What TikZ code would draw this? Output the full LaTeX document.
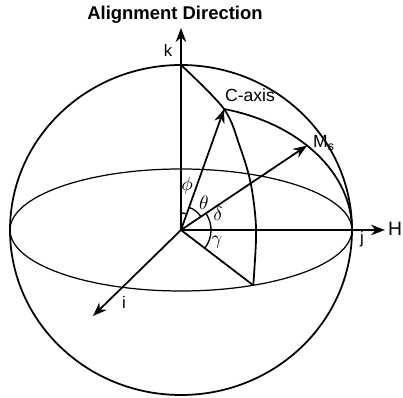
\documentclass[tikz,border=0pt]{standalone}
\usepackage{fontspec}
\setmainfont{Liberation Sans}
\usetikzlibrary{arrows.meta}

\begin{document}
\begin{tikzpicture}[
  x=0.2mm, y=0.2mm,
  every node/.style={font=\fontsize{9.5}{11}\selectfont, inner sep=1pt},
  shell/.style={line width=1pt},
  equat/.style={line width=0.7pt},
  axis/.style={-{Stealth[length=2.8mm, width=2.1mm]}, line width=1pt},
  ang/.style={line width=0.75pt},
  glbl/.style={font=\fontsize{11}{12}\selectfont}
]
\useasboundingbox (-181,-168) rectangle (222,230);

%% reference points on the sphere
\coordinate (O) at (0,0);
\coordinate (K) at (0,165);
\coordinate (C) at (75.4:171 and 125);
\coordinate (Ms) at (42.5:171 and 125);
\coordinate (J) at (171,0);
\coordinate (P) at (-65:171 and 61);
\coordinate (kend) at (0,202);
\coordinate (Hend) at (204,0);
\coordinate (iend) at (-88,-86);

%% sphere outline and equator
\draw[shell] (O) ellipse[x radius=171, y radius=165];
\draw[equat] (O) ellipse[x radius=171, y radius=61];

%% meridian through the C-axis, and great circle from C-axis to j
\draw[shell] plot[smooth, tension=0.55] coordinates {(0,165) (43,121) (59,83) (69,50) (74,17) (75,-10) (72.3,-55.3)};
\draw[shell] (C) arc[start angle=75.4, end angle=0, x radius=171, y radius=125];

%% axes and vectors
\draw[axis] (O) -- (kend);
\draw[axis] (O) -- (Hend);
\draw[axis] (O) -- (iend);
\draw[axis] (O) -- (C);
\draw[axis] (O) -- (Ms);
\draw[shell] (O) -- (P);

%% angle arcs
\draw[ang] (O) ++(90:17) arc[start angle=90, end angle=70.7, radius=17];
\draw[ang] (O) ++(70.7:24) arc[start angle=70.7, end angle=32.4, radius=24];
\draw[ang] (O) ++(32.4:30) arc[start angle=32.4, end angle=-38.4, radius=30];

%% labels
\node[font=\fontsize{10.5}{12}\selectfont\bfseries] (align) at (-6,215) {Alignment Direction};
\node (klbl) at (-13,180) {k};
\node[font=\fontsize{10}{12}\selectfont] (clbl) at (69,135) {C-axis};
\node[font=\fontsize{10}{12}\selectfont] (mlbl) at (143,87) {M$_\mathrm{s}$};
\node[font=\fontsize{11}{12}\selectfont] (hlbl) at (214,1) {H};
\node (jlbl) at (181,-9) {j};
\node (ilbl) at (-57,-72) {i};
\node[glbl] (phi) at (6,44) {$\phi$};
\node[glbl] (theta) at (23,27) {$\theta$};
\node[glbl] (delta) at (37,16) {$\delta$};
\node[glbl] (gamma) at (36,-12) {$\gamma$};
\end{tikzpicture}
\end{document}
